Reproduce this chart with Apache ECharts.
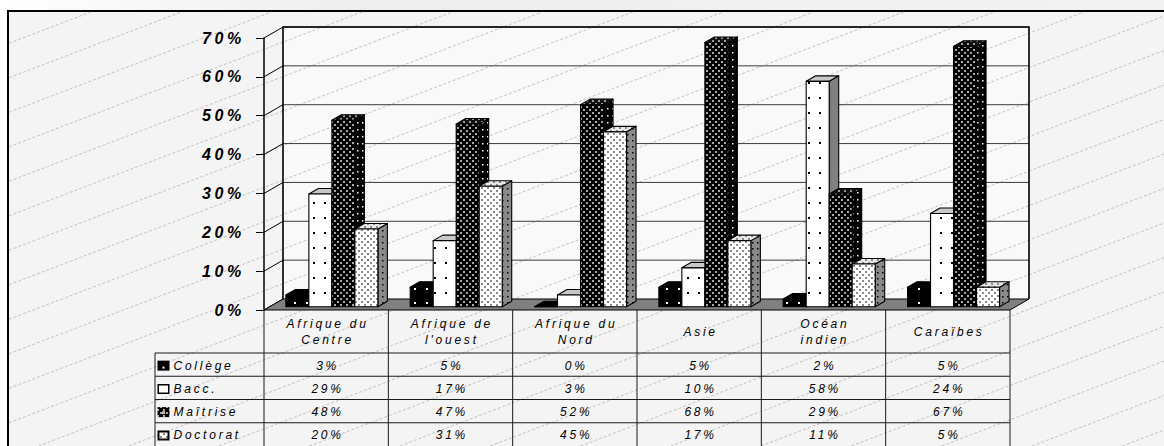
<!DOCTYPE html>
<html>
<head>
<meta charset="utf-8">
<script src="https://cdn.jsdelivr.net/npm/echarts@6/dist/echarts.min.js"></script>
<style>
  html, body { margin: 0; padding: 0; background: #ffffff; }
  #chart { width: 1164px; height: 446px; }
  /* wide tracking on every label */
  #chart text { letter-spacing: 0.23em; }
</style>
</head>
<body>
<div id="chart"></div>
<script>
// ---- data ----
const categories = ['Afrique du\nCentre', "Afrique de\nl'ouest", 'Afrique du\nNord', 'Asie', 'Océan\nindien', 'Caraïbes'];
const seriesNames = ['Collège', 'Bacc.', 'Maîtrise', 'Doctorat'];
const college  = [3, 5, 0, 5, 2, 5];
const bacc     = [29, 17, 3, 10, 58, 24];
const maitrise = [48, 47, 52, 68, 29, 67];
const doctorat = [20, 31, 45, 17, 11, 5];
const yTicks   = [0, 10, 20, 30, 40, 50, 60, 70];

// ---- projection / layout constants ----
const WALL = [19, -11];        // full depth of the 3D box
const BAR_FRONT = [5.7, -3.3]; // depth of the bar front faces
const BAR_DEPTH = [9.5, -5.5]; // thickness of each bar
const BAR_FRAC = 0.185;        // bar width as a share of a category
const HEADER_H = 43;
const ROW_H = 23.25;
const LEGEND_W = 109;
const FONT = '"Liberation Sans", Arial, sans-serif';
const TRACK = 2.8;             // letter-spacing at 12px, used to re-centre text

// ---- fill patterns ----
function tile(w, h, bg, dotColor, dots, ds) {
  const c = document.createElement('canvas');
  c.width = w; c.height = h;
  const g = c.getContext('2d');
  g.fillStyle = bg; g.fillRect(0, 0, w, h);
  g.fillStyle = dotColor;
  dots.forEach(([x, y]) => g.fillRect(x, y, ds, ds));
  return { image: c, repeat: 'repeat', imageWidth: w, imageHeight: h };
}
const faces = [
  { // Collège
    front: tile(12, 14, '#000', '#fff', [[6, 8]], 2),
    top: '#000',
    side: '#000'
  },
  { // Bacc.
    front: tile(11, 15, '#fff', '#000', [[5, 7]], 2),
    top: '#c8c8c8',
    side: '#808080'
  },
  { // Maîtrise
    front: tile(6, 6, '#000', '#a8a8a8', [[1, 1], [4, 4]], 2),
    top: tile(6, 6, '#111', '#9a9a9a', [[1, 1], [4, 4]], 2),
    side: tile(5, 7, '#000', '#ffffff', [[2, 3]], 1.5)
  },
  { // Doctorat
    front: tile(6, 6, '#fff', '#8c8c8c', [[1, 1], [4, 4]], 2),
    top: tile(6, 6, '#e8e8e8', '#8c8c8c', [[1, 1], [4, 4]], 2),
    side: tile(5, 6, '#8a8a8a', '#000', [[2, 2]], 1.5)
  }
];
const seriesValues = [college, bacc, maitrise, doctorat];

// ---- 3D bar series ----
function barSeries(idx) {
  const f = faces[idx];
  return {
    type: 'custom',
    name: seriesNames[idx],
    z: 6,
    data: seriesValues[idx].map((v, i) => [i, v]),
    encode: { x: 0, y: 1 },
    renderItem(params, api) {
      const i = api.value(0), v = api.value(1);
      const base = api.coord([i, 0]);
      const top = api.coord([i, v]);
      const bw = api.size([1, 0])[0] * BAR_FRAC;
      const x0 = base[0] + (idx - seriesNames.length / 2) * bw + BAR_FRONT[0];
      const x1 = x0 + bw;
      const yb = base[1] + BAR_FRONT[1];
      const yt = top[1] + BAR_FRONT[1];
      const [dx, dy] = BAR_DEPTH;
      const edge = { stroke: '#000', lineWidth: 1.1, lineJoin: 'round' };
      return {
        type: 'group',
        children: [
          { type: 'polygon', shape: { points: [[x1, yb], [x1 + dx, yb + dy], [x1 + dx, yt + dy], [x1, yt]] },
            style: Object.assign({ fill: f.side }, edge) },
          { type: 'polygon', shape: { points: [[x0, yt], [x1, yt], [x1 + dx, yt + dy], [x0 + dx, yt + dy]] },
            style: Object.assign({ fill: f.top }, edge) },
          { type: 'polygon', shape: { points: [[x0, yb], [x1, yb], [x1, yt], [x0, yt]] },
            style: Object.assign({ fill: f.front }, edge) }
        ]
      };
    }
  };
}

// ---- back wall fill (under the hatching) ----
const wallFill = {
  type: 'custom', z: 2, silent: true,
  data: [[0, 0]],
  renderItem(params, api) {
    const cs = params.coordSys;
    const L = cs.x + WALL[0], R = cs.x + cs.width + WALL[0];
    const yT = api.coord([0, yTicks[yTicks.length - 1]])[1] + WALL[1];
    const yB = api.coord([0, 0])[1] + WALL[1];
    return { type: 'rect', shape: { x: L, y: yT, width: R - L, height: yB - yT }, style: { fill: '#f9f9f9' } };
  }
};

// ---- walls, gridlines and floor ----
const box = {
  type: 'custom', z: 4, silent: true,
  data: [[0, 0]],
  renderItem(params, api) {
    const cs = params.coordSys;
    const L = cs.x, R = cs.x + cs.width;
    const [wx, wy] = WALL;
    const yTop = api.coord([0, yTicks[yTicks.length - 1]])[1];
    const y0 = api.coord([0, 0])[1];
    const children = [];
    yTicks.forEach(t => {
      const y = api.coord([0, t])[1];
      if (t > 0) {
        children.push({ type: 'line', shape: { x1: L + wx, y1: y + wy, x2: R + wx, y2: y + wy },
          style: { stroke: '#3c3c3c', lineWidth: 1 } });
      }
      children.push({ type: 'line', shape: { x1: L, y1: y, x2: L + wx, y2: y + wy },
        style: { stroke: '#000', lineWidth: 1 } });
    });
    children.push({ type: 'polyline',
      shape: { points: [[L + wx, y0 + wy], [L + wx, yTop + wy], [R + wx, yTop + wy], [R + wx, y0 + wy]] },
      style: { stroke: '#000', lineWidth: 1.6, fill: null } });
    children.push({ type: 'polygon',
      shape: { points: [[L, y0], [R, y0], [R + wx, y0 + wy], [L + wx, y0 + wy]] },
      style: { fill: '#808080', stroke: '#000', lineWidth: 1 } });
    return { type: 'group', children };
  }
};

// ---- data table under the plot ----
const textStyle = (text, extra) => Object.assign({
  text, fill: '#000', font: 'italic 12px ' + FONT, align: 'center', verticalAlign: 'middle'
}, extra || {});

const table = {
  type: 'custom', z: 5, silent: true,
  data: categories.map((c, i) => [i, 0]),
  encode: { x: 0, y: 1 },
  renderItem(params, api) {
    const i = api.value(0);
    const cs = params.coordSys;
    const [cx, y0] = api.coord([i, 0]);
    const half = api.size([1, 0])[0] / 2;
    const H = api.getHeight();
    const line = { stroke: '#1a1a1a', lineWidth: 1 };
    const children = [];
    // column border
    children.push({ type: 'line', shape: { x1: cx + half, y1: y0, x2: cx + half, y2: H }, style: line });
    // header
    children.push({ type: 'text', x: cx + TRACK / 2, y: y0 + HEADER_H / 2 + 0.5,
      style: textStyle(categories[i], { lineHeight: 16 }) });
    // values
    seriesValues.forEach((vals, r) => {
      children.push({ type: 'text', x: cx + TRACK / 2, y: y0 + HEADER_H + (r + 0.5) * ROW_H + 1,
        style: textStyle(vals[i] + '%') });
    });
    if (i === 0) {
      const xl = cx - half;
      const lx = xl - LEGEND_W;
      const R = cs.x + cs.width;
      children.push({ type: 'line', shape: { x1: xl, y1: y0, x2: xl, y2: H }, style: line });
      children.push({ type: 'line', shape: { x1: lx, y1: y0 + HEADER_H, x2: lx, y2: H }, style: line });
      for (let r = 0; r < seriesNames.length; r++) {
        const yy = y0 + HEADER_H + r * ROW_H;
        children.push({ type: 'line', shape: { x1: lx, y1: yy, x2: R, y2: yy }, style: line });
        const yc = yy + ROW_H / 2 + 1;
        const kx = lx + 2.5, kw = 12, kh = 10;
        const key = { type: 'rect', shape: { x: kx, y: yc - kh / 2, width: kw, height: kh } };
        if (r === 0) {
          children.push(Object.assign(key, { style: { fill: '#000' } }));
          children.push({ type: 'rect', shape: { x: kx + 5, y: yc + 1, width: 2, height: 2 }, style: { fill: '#fff' } });
        } else if (r === 1) {
          children.push(Object.assign(key, { shape: { x: kx + 0.75, y: yc - kh / 2 + 0.75, width: kw - 1.5, height: kh - 1.5 },
            style: { fill: '#fff', stroke: '#000', lineWidth: 1.5 } }));
        } else if (r === 2) {
          children.push(Object.assign(key, { style: { fill: faces[2].front } }));
          children.push({ type: 'rect', shape: { x: kx + 4.5, y: yc - 1, width: 3, height: 3 }, style: { fill: '#bbb' } });
        } else {
          children.push(Object.assign(key, { shape: { x: kx + 1, y: yc - kh / 2 + 1, width: kw - 2, height: kh - 2 },
            style: { fill: faces[3].front, stroke: '#000', lineWidth: 2 } }));
        }
        children.push({ type: 'text', x: kx + kw + 4, y: yc,
          style: textStyle(seriesNames[r], { align: 'left' }) });
      }
    }
    return { type: 'group', children };
  }
};

// ---- background, hatching, frame ----
function hatch() {
  const s = 0.382, step = 34.5, c0 = 12.2;
  const xMin = 9, xMax = 1164, yMin = 12, yMax = 446;
  const out = [];
  for (let c = c0; c < yMax + s * xMax + step; c += step) {
    const xa = Math.max(xMin, (c - yMax) / s);
    const xb = Math.min(xMax, (c - yMin) / s);
    if (xb <= xa) continue;
    out.push({ type: 'line', z: 3, silent: true,
      shape: { x1: xa, y1: c - s * xa, x2: xb, y2: c - s * xb },
      style: { stroke: '#b4b4b4', lineWidth: 0.8, lineDash: [3, 2] } });
  }
  return out;
}

const chart = echarts.init(document.getElementById('chart'), null, { renderer: 'svg' });
chart.setOption({
  animation: false,
  graphic: [
    { type: 'rect', z: 0, silent: true, shape: { x: 0, y: 0, width: 1164, height: 446 },
      style: { fill: new echarts.graphic.LinearGradient(0, 0, 1, 0, [
        { offset: 0, color: '#ffffff' }, { offset: 0.3, color: '#eeeeee' }, { offset: 1, color: '#f2f2f2' }]) } },
    { type: 'rect', z: 1, silent: true, shape: { x: 8, y: 11, width: 1200, height: 500 },
      style: { fill: '#f4f4f4', stroke: '#000', lineWidth: 2 } }
  ].concat(hatch()),
  grid: { left: 264, right: 154, top: 38, bottom: 136 },
  xAxis: {
    type: 'category', data: categories,
    axisLine: { show: false }, axisTick: { show: false }, axisLabel: { show: false }, splitLine: { show: false }
  },
  yAxis: {
    type: 'value', z: 5,
    min: yTicks[0], max: yTicks[yTicks.length - 1], interval: yTicks[1] - yTicks[0],
    axisLine: { show: true, lineStyle: { color: '#000', width: 1.5 } },
    axisTick: { show: true, length: 8, lineStyle: { color: '#000', width: 1 } },
    splitLine: { show: false },
    axisLabel: {
      formatter: '{value}%', margin: 19, color: '#000',
      fontSize: 16, fontWeight: 'bold', fontStyle: 'italic', fontFamily: FONT
    }
  },
  series: [wallFill, box, table].concat(seriesNames.map((n, i) => barSeries(i)))
});
</script>
</body>
</html>
